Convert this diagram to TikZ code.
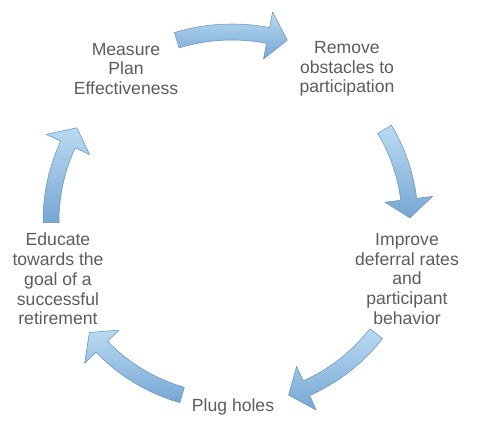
\documentclass[tikz,border=0pt]{standalone}
\usepackage{fontspec}
\setmainfont{Liberation Sans}
\usetikzlibrary{positioning}
\definecolor{arrowlight}{HTML}{BADAF2}
\definecolor{arrowdark}{HTML}{76A7D3}
\definecolor{arrowedge}{HTML}{6894BF}
\definecolor{labelgray}{HTML}{5C5C5C}

\tikzset{
  cycarrow/.style={top color=arrowlight, bottom color=arrowdark, draw=arrowedge, line width=0.4pt, line join=round},
  steplabel/.style={text=labelgray, align=center, font=\fontsize{13.2}{14.8}\selectfont}
}

\begin{document}
\begin{tikzpicture}[x=0.75pt, y=0.75pt]

% Canvas: 495 x 443 px, y measured upwards
\useasboundingbox (0,0) rectangle (495,443);

% Step labels
\node[steplabel] (measure) at (126,374) {Measure\\Plan\\Effectiveness};
\node[steplabel] (remove) at (347,374) {Remove\\obstacles to\\participation};
\node[steplabel] (improve) at (407,164) {Improve\\deferral rates\\and\\participant\\behavior};
\node[steplabel] (plug) at (233,36) {Plug holes};
\node[steplabel] (educate) at (58,164) {Educate\\towards the\\goal of a\\successful\\retirement};

% Curved arrows round the cycle centre (232,222)
% shaft half width 8, head half width 24, head length 6 deg
\begin{scope}[shift={(232,222)}]

% top: 107 -> 73, r = 189
\path[cycarrow] (107:197) arc[start angle=107, end angle=79, radius=197]
  -- (79:213) -- (73:189) -- (79:165) -- (79:181)
  arc[start angle=79, end angle=107, radius=181] -- cycle;

% right: 31 -> 1, r = 178
\path[cycarrow] (31:186) arc[start angle=31, end angle=7, radius=186]
  -- (7:202) -- (1:178) -- (7:154) -- (7:170)
  arc[start angle=7, end angle=31, radius=170] -- cycle;

% bottom right: -38 -> -72, r = 183
\path[cycarrow] (-38:191) arc[start angle=-38, end angle=-66, radius=191]
  -- (-66:207) -- (-72:183) -- (-66:159) -- (-66:175)
  arc[start angle=-66, end angle=-38, radius=175] -- cycle;

% bottom left: 254 -> 218, r = 181
\path[cycarrow] (254:189) arc[start angle=254, end angle=224, radius=189]
  -- (224:205) -- (218:181) -- (224:157) -- (224:173)
  arc[start angle=224, end angle=254, radius=173] -- cycle;

% left: 180.5 -> 149, r = 181
\path[cycarrow] (180.5:189) arc[start angle=180.5, end angle=155, radius=189]
  -- (155:205) -- (149:181) -- (155:157) -- (155:173)
  arc[start angle=155, end angle=180.5, radius=173] -- cycle;

\end{scope}

\end{tikzpicture}
\end{document}
